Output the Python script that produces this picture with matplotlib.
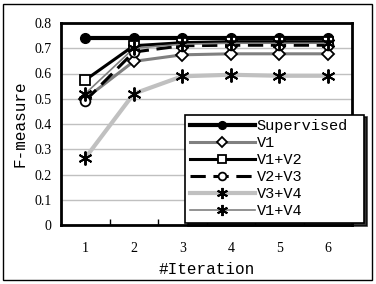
import matplotlib
matplotlib.use('Agg')
import matplotlib.pyplot as plt
from matplotlib.patches import Rectangle

# data
iterations = [1, 2, 3, 4, 5, 6]
supervised = [0.74, 0.74, 0.74, 0.74, 0.74, 0.74]
v1 = [0.50, 0.648, 0.674, 0.678, 0.678, 0.678]
v1_v2 = [0.574, 0.71, 0.722, 0.726, 0.726, 0.726]
v2_v3 = [0.492, 0.685, 0.71, 0.712, 0.712, 0.712]
v3_v4 = [0.265, 0.52, 0.589, 0.595, 0.591, 0.591]
v1_v4 = [0.52, 0.70, 0.716, 0.72, 0.72, 0.72]

serif = 'Liberation Serif'
mono = 'Liberation Mono'

fig = plt.figure(figsize=(3.76, 2.84), dpi=100)
ax = fig.add_axes([61 / 376, 1 - 225 / 284, 291 / 376, 202 / 284])

star = (6, 2, 0)
ax.plot(iterations, supervised, color='black', lw=3, marker='o', ms=7,
        mfc='black', mec='black', label='Supervised')
ax.plot(iterations, v1, color='#808080', lw=2.2, marker='D', ms=6,
        mfc='white', mec='black', mew=1.3, label='V1')
ax.plot(iterations, v1_v2, color='black', lw=2.2, marker='s', ms=7,
        mfc='white', mec='black', mew=1.3, label='V1+V2')
ax.plot(iterations, v2_v3, color='black', lw=2.2, ls=(0, (5, 2.5)), marker='o', ms=7,
        mfc='white', mec='black', mew=1.3, label='V2+V3')
ax.plot(iterations, v3_v4, color='#c0c0c0', lw=3, marker=star, ms=10,
        mec='black', mew=1.4, label='V3+V4')
ax.plot(iterations, v1_v4, color='#808080', lw=1.2, marker=star, ms=10,
        mec='black', mew=1.4, label='V1+V4')

ax.set_xlim(0.5, 6.5)
ax.set_ylim(0, 0.8)
ax.set_yticks([0, 0.1, 0.2, 0.3, 0.4, 0.5, 0.6, 0.7, 0.8])
ax.set_yticklabels(['0', '0.1', '0.2', '0.3', '0.4', '0.5', '0.6', '0.7', '0.8'],
                   family=serif, fontsize=10)
ax.set_xticks(iterations)
ax.set_xticklabels([str(i) for i in iterations], family=serif, fontsize=10)
ax.set_xticks([1.5, 2.5, 3.5, 4.5, 5.5], minor=True)
ax.tick_params(axis='x', which='major', length=0, pad=12)
ax.tick_params(axis='x', which='minor', direction='in', length=4, width=1)
ax.tick_params(axis='y', length=0, pad=7)
ax.yaxis.grid(True, color='#c0c0c0', lw=1)
ax.set_axisbelow(True)
for s in ax.spines.values():
    s.set_linewidth(2)
    s.set_color('black')

ax.set_xlabel('#Iteration', family=mono, fontsize=11.5, labelpad=5)
ax.set_ylabel('F-measure', family=mono, fontsize=11.5, labelpad=5)

leg = fig.legend(loc='lower left', bbox_to_anchor=(185 / 376, 1 - 223 / 284, 179 / 376, 108 / 284),
                 mode='expand', prop={'family': mono, 'size': 11}, handlelength=4.3,
                 handletextpad=0.1, labelspacing=0.2, borderaxespad=0, borderpad=0.3,
                 fancybox=False, framealpha=1, edgecolor='black', markerscale=0.8,
                 shadow={'color': 'black', 'alpha': 0.8})
leg.get_frame().set_linewidth(1.2)

fig.patches.append(Rectangle((3 / 376, 4 / 284), 369 / 376, 276 / 284, transform=fig.transFigure,
                             fill=False, edgecolor='black', lw=1))

fig.savefig('out.png', dpi=100)
